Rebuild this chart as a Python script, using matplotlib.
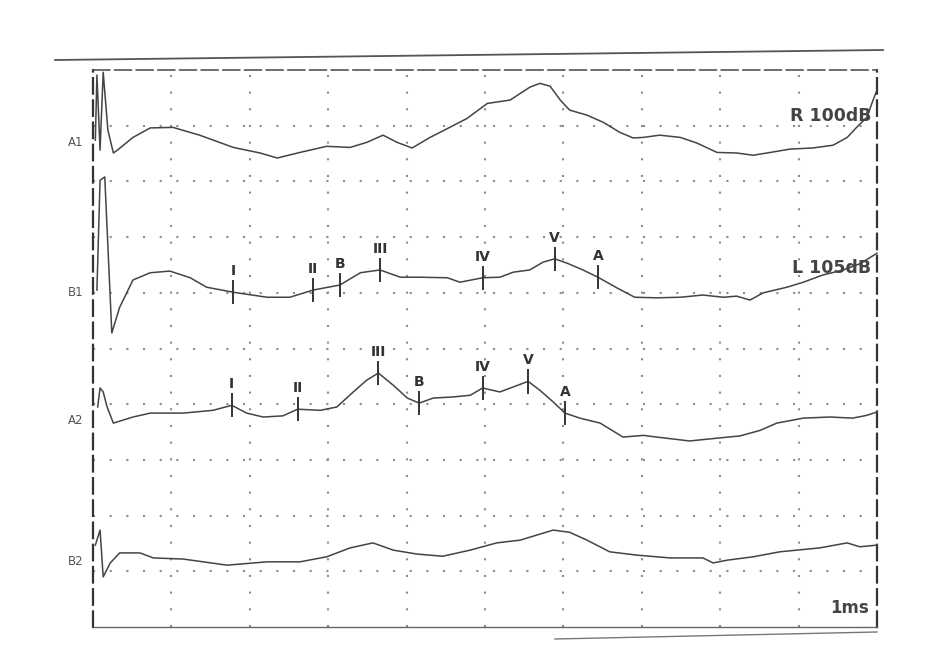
import matplotlib
matplotlib.use("Agg")
import matplotlib.pyplot as plt
import numpy as np

# ---- data (time in ms, amplitude in grid divisions relative to row baseline) ----
trace_names = ["A1", "B1", "A2", "B2"]
baselines = [8.74, 6.05, 3.75, 1.22]

a1_t = [0.03, 0.05, 0.09, 0.13, 0.19, 0.26, 0.31, 0.51, 0.73, 1.02, 1.36, 1.79,
        2.13, 2.35, 2.64, 2.98, 3.28, 3.49, 3.70, 3.88, 4.07, 4.30, 4.55, 4.77,
        5.03, 5.32, 5.57, 5.70, 5.83, 5.96, 6.08, 6.30, 6.51, 6.72, 6.89, 7.02,
        7.23, 7.49, 7.70, 7.96, 8.21, 8.42, 8.64, 8.89, 9.18, 9.44, 9.62, 9.74,
        9.87, 9.95, 10.0]
a1_v = [0.0, 1.17, -0.18, 1.22, 0.18, -0.23, -0.18, 0.05, 0.22, 0.23, 0.09, -0.13,
        -0.23, -0.32, -0.22, -0.11, -0.13, -0.04, 0.09, -0.04, -0.14, 0.05, 0.23, 0.39,
        0.66, 0.72, 0.95, 1.02, 0.97, 0.72, 0.54, 0.45, 0.32, 0.14, 0.04, 0.05,
        0.09, 0.05, -0.05, -0.22, -0.23, -0.27, -0.22, -0.16, -0.14, -0.09, 0.05, 0.23,
        0.41, 0.72, 0.90]

b1_t = [0.05, 0.09, 0.15, 0.24, 0.34, 0.51, 0.73, 0.98, 1.24, 1.45, 1.79, 2.22,
        2.51, 2.81, 3.15, 3.41, 3.66, 3.92, 4.17, 4.52, 4.68, 4.97, 5.19, 5.36,
        5.57, 5.74, 5.89, 6.05, 6.25, 6.44, 6.68, 6.91, 7.19, 7.49, 7.78, 8.04,
        8.21, 8.38, 8.55, 8.85, 9.06, 9.31, 9.57, 9.78, 10.0]
b1_v = [0.0, 1.97, 2.03, -0.77, -0.31, 0.18, 0.31, 0.34, 0.22, 0.05, -0.04, -0.13,
        -0.13, 0.0, 0.09, 0.31, 0.36, 0.23, 0.23, 0.22, 0.14, 0.22, 0.23, 0.32,
        0.36, 0.50, 0.56, 0.48, 0.36, 0.23, 0.04, -0.13, -0.14, -0.13, -0.09, -0.13,
        -0.11, -0.18, -0.05, 0.05, 0.14, 0.27, 0.36, 0.47, 0.66]

a2_t = [0.06, 0.09, 0.13, 0.18, 0.26, 0.51, 0.73, 1.15, 1.53, 1.77, 1.96, 2.17,
        2.42, 2.61, 2.90, 3.11, 3.32, 3.49, 3.64, 3.83, 4.01, 4.16, 4.34, 4.59,
        4.81, 4.97, 5.19, 5.36, 5.55, 5.70, 5.87, 6.02, 6.21, 6.47, 6.76, 7.02,
        7.19, 7.61, 7.96, 8.25, 8.51, 8.72, 9.06, 9.40, 9.69, 9.87, 10.0]
a2_v = [0.20, 0.54, 0.47, 0.20, -0.09, 0.02, 0.09, 0.09, 0.14, 0.23, 0.09, 0.02,
        0.04, 0.16, 0.14, 0.20, 0.47, 0.68, 0.81, 0.59, 0.36, 0.27, 0.36, 0.38,
        0.41, 0.54, 0.47, 0.56, 0.66, 0.50, 0.29, 0.09, 0.0, -0.09, -0.34, -0.31,
        -0.34, -0.41, -0.36, -0.32, -0.22, -0.09, 0.0, 0.02, 0.0, 0.05, 0.11]

b2_t = [0.03, 0.09, 0.13, 0.22, 0.34, 0.60, 0.77, 1.15, 1.71, 2.22, 2.64, 2.98,
        3.28, 3.57, 3.83, 4.13, 4.46, 4.81, 5.15, 5.45, 5.87, 6.08, 6.30, 6.59,
        6.94, 7.36, 7.78, 7.91, 8.09, 8.42, 8.76, 9.27, 9.62, 9.78, 10.0]
b2_v = [0.25, 0.52, -0.32, -0.07, 0.11, 0.11, 0.02, 0.0, -0.11, -0.05, -0.05, 0.04,
        0.20, 0.29, 0.16, 0.09, 0.05, 0.16, 0.29, 0.34, 0.52, 0.48, 0.34, 0.13,
        0.07, 0.02, 0.02, -0.07, -0.02, 0.04, 0.13, 0.20, 0.29, 0.22, 0.25]

# peak markers
b1_peaks = ["I", "II", "B", "III", "IV", "V", "A"]
b1_peak_t = [1.79, 2.81, 3.15, 3.66, 4.97, 5.89, 6.44]
a2_peaks = ["I", "II", "III", "B", "IV", "V", "A"]
a2_peak_t = [1.77, 2.61, 3.64, 4.16, 4.97, 5.55, 6.02]

side_labels = ["R 100dB", "L 105dB"]
scale_label = "1ms"

# ---- figure ----
fig = plt.figure(figsize=(9.38, 6.72), dpi=100)
ax = fig.add_axes([93/938, 1-627/672, 784/938, 557/672])
ax.set_xlim(0, 10)
ax.set_ylim(0, 10)

# dotted grid
for k in range(1, 10):
    ax.axvline(k, color="#8c8c8c", lw=1.5, ls=(0, (1.0, 7.0)), zorder=1)
    ax.axhline(k, color="#8c8c8c", lw=1.5, ls=(0, (1.0, 7.0)), zorder=1)

ax.set_xticks([])
ax.set_yticks([])
for s in ["left", "right"]:
    ax.spines[s].set_linestyle((0, (7, 3)))
    ax.spines[s].set_linewidth(1.6)
    ax.spines[s].set_color("#333333")
ax.spines["top"].set_linestyle((0, (10, 3)))
ax.spines["top"].set_color("#555555")
ax.spines["top"].set_linewidth(1.2)
ax.spines["bottom"].set_color("#666666")
ax.spines["bottom"].set_linewidth(1.0)

traces = [(a1_t, a1_v), (b1_t, b1_v), (a2_t, a2_v), (b2_t, b2_v)]
for (t, v), base, name in zip(traces, baselines, trace_names):
    t = np.asarray(t)
    y = np.asarray(v) + base
    ax.plot(t, y, color="#444444", lw=1.1, zorder=3, clip_on=False)
    ax.text(-0.12, base - 0.05, name, ha="right", va="center",
            fontsize=8.5, color="#555555")

def mark_peaks(t_arr, v_arr, base, names, times):
    for nm, tp in zip(names, times):
        yp = np.interp(tp, t_arr, v_arr) + base
        ax.plot([tp, tp], [yp - 0.2, yp + 0.2], color="#333333", lw=1.4, zorder=4)
        ax.text(tp, yp + 0.38, nm, ha="center", va="center", fontsize=10,
                fontweight="bold", color="#333333", zorder=5)

mark_peaks(b1_t, b1_v, baselines[1], b1_peaks, b1_peak_t)
mark_peaks(a2_t, a2_v, baselines[2], a2_peaks, a2_peak_t)

ax.text(9.93, 9.17, side_labels[0], ha="right", va="center", fontsize=12.5,
        fontweight="bold", color="#444444", zorder=6)
ax.text(9.93, 6.44, side_labels[1], ha="right", va="center", fontsize=12.5,
        fontweight="bold", color="#444444", zorder=6)
ax.text(9.9, 0.35, scale_label, ha="right", va="center", fontsize=12,
        fontweight="bold", color="#444444", zorder=6)

# scanned page edges (outer lines)
fig.add_artist(plt.Line2D([55/938, 883/938], [1-60/672, 1-50/672],
                          color="#555555", lw=1.3))
fig.add_artist(plt.Line2D([555/938, 877/938], [1-639/672, 1-632/672],
                          color="#777777", lw=1.0))

fig.savefig("out.png", dpi=100, facecolor="white")
